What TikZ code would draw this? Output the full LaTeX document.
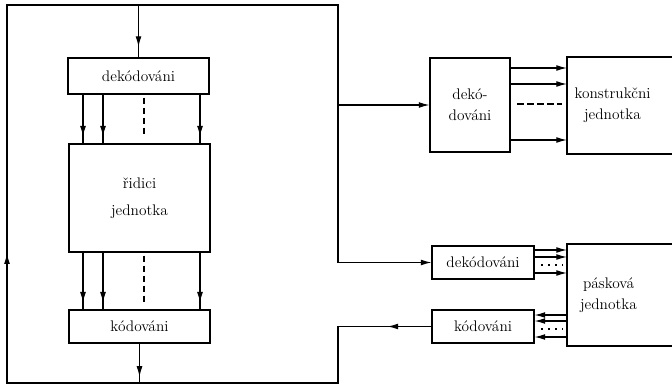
\documentclass[tikz,border=0pt]{standalone}
\usepackage{fontspec}
\usetikzlibrary{arrows.meta,decorations.markings}
\begin{document}
\begin{tikzpicture}[x=0.75pt,y=-0.75pt,
  line width=0.85pt,
  >={Latex[length=8pt,width=4.4pt]},
  box/.style={draw, rectangle, inner sep=0pt, align=center,
    font=\fontsize{11.5}{16}\selectfont},
  arrowat/.style={postaction={decorate},
    decoration={markings, mark=at position #1 with {\arrow{>}}}},
  dashline/.style={dash pattern=on 5pt off 2.5pt},
  dotline/.style={line width=1.2pt, dash pattern=on 1.2pt off 4pt},
  openbox/.style={line width=0.95pt}
]
\useasboundingbox (0,0) rectangle (672,385);

% corners of the outer bus loop
\coordinate (TL) at (7,5);
\coordinate (TR) at (338,5);
\coordinate (BL) at (7,383);
\coordinate (BR) at (338,383);

% central processor column
\node[box, minimum width=105.75pt, minimum height=27pt] (decL) at (138.5,76) {dekódováni};
\node[box, minimum width=105.75pt, minimum height=81pt,
      font=\fontsize{11.5}{20}\selectfont] (ctrl) at (139.5,198) {řidici\\jednotka};
\node[box, minimum width=105.75pt, minimum height=24.75pt] (encL) at (139.5,326.5) {kódováni};

% design unit with its decoder
\node[box, minimum width=60pt, minimum height=70.5pt] (decK) at (470,105) {dekó-\\dováni};
\node[box, draw=none, minimum width=67.5pt, minimum height=72pt] (kon) at (612.5,105.5) {konstrukčni\\jednotka};
\draw[openbox] ([xshift=100pt]kon.north west) -- (kon.north west) -- (kon.south west) -- ([xshift=100pt]kon.south west);

% tape unit with decoder and encoder
\node[box, minimum width=76.5pt, minimum height=24.75pt] (decT) at (483,262.5) {dekódováni};
\node[box, minimum width=76.5pt, minimum height=24.75pt] (encT) at (483,326.5) {kódováni};
\node[box, draw=none, minimum width=61.5pt, minimum height=75.75pt] (pas) at (608.5,295) {pásková\\jednotka};
\draw[openbox] ([xshift=100pt]pas.north west) -- (pas.north west) -- (pas.south west) -- ([xshift=100pt]pas.south west);

% outer loop: tape encoder -> bottom -> left (up) -> top -> tape decoder
\draw[->, postaction={decorate}, decoration={markings,
      mark=at position 33pt with {\arrow{>}},
      mark=at position 458pt with {\arrow{>}}}]
  (encT.west) -- (encT.west -| TR) -- (BR) -- (BL) -- (TL) -- (TR)
  -- (decT.west -| TR) -- (decT.west);
\draw[arrowat=31.5pt] (decL.north |- TL) -- (decL.north);
\draw[arrowat=25pt] (encL.south) -- (encL.south |- BL);
\draw[->] (decK.west -| TR) -- (decK.west);

% parallel lines through the control unit
\coordinate (xa) at (83,0);
\coordinate (xb) at (103,0);
\coordinate (xc) at (144,0);
\coordinate (xd) at (200,0);
\foreach \c in {xa,xb,xd} {
  \draw[arrowat=0.86] (decL.south -| \c) -- (ctrl.north -| \c);
  \draw[arrowat=0.88] (ctrl.south -| \c) -- (encL.north -| \c);
}
\draw[dashline] ([yshift=-2.25pt]decL.south -| xc) -- ([yshift=4.5pt]ctrl.north -| xc);
\draw[dashline] ([yshift=-2.25pt]ctrl.south -| xc) -- ([yshift=4pt]encL.north -| xc);

% lines into the design unit
\foreach \y in {68,84,140} {
  \draw[->] (decK.east |- 0,\y) -- (kon.west |- 0,\y);
}
\draw[dashline] ([xshift=5pt]decK.east |- 0,104) -- ([xshift=-4pt]kon.west |- 0,104);

% lines into and out of the tape unit
\foreach \y in {250,257,273} {
  \draw[->] (decT.east |- 0,\y) -- (pas.west |- 0,\y);
}
\draw[dotline] ([xshift=5pt]decT.east |- 0,265) -- ([xshift=-3pt]pas.west |- 0,265);
\foreach \y in {315,321,337} {
  \draw[->] (pas.west |- 0,\y) -- (encT.east |- 0,\y);
}
\draw[dotline] ([xshift=5pt]encT.east |- 0,329) -- ([xshift=-3pt]pas.west |- 0,329);
\end{tikzpicture}
\end{document}
